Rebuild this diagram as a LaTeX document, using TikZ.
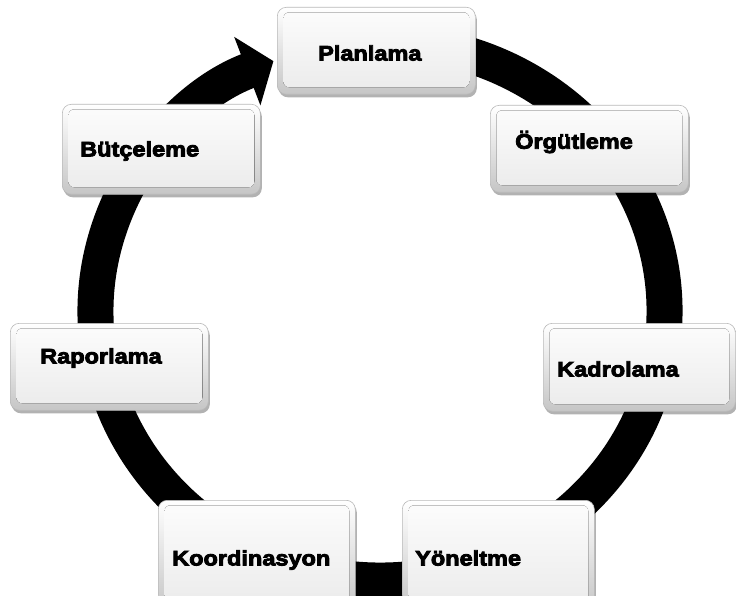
\documentclass[tikz,border=0pt]{standalone}
\usepackage{fontspec}
\usetikzlibrary{arrows.meta,shadows,calc}
\newfontfamily\heavyfont{Liberation Sans Bold}[FakeBold=4,FakeStretch=1.12]

\tikzset{
  panel/.style={
    draw=gray!55, line width=0.6pt, rounded corners=9pt,
    anchor=north west, inner sep=0pt,
    minimum width=198pt, minimum height=87pt,
    top color=white, bottom color=gray!45,
    drop shadow={shadow xshift=1.5pt, shadow yshift=-3pt, opacity=0.3, fill=black},
    path picture={
      \fill[top color=gray!2, bottom color=gray!16, rounded corners=6pt]
        ([xshift=6pt,yshift=-5pt]path picture bounding box.north west)
        rectangle ([xshift=-6pt,yshift=7pt]path picture bounding box.south east);
    }
  },
  boxtext/.style={anchor=west, inner sep=0pt, text=black,
    font=\heavyfont\fontsize{21}{21}\selectfont},
  ring/.style={line width=36pt, black, -{Triangle[length=28pt,width=72pt]}}
}

\begin{document}
\begin{tikzpicture}[x=1pt,y=-1pt]
  \useasboundingbox (0,0) rectangle (736,596);
  \clip (0,0) rectangle (736,596);
  \fill[white] (0,0) rectangle (736,596);

  % cycle ring, clockwise, ending in an arrow at the top
  \coordinate (ringstart) at ($(380,311)+(-80:284.5 and 269.5)$);
  \draw[ring] (ringstart) arc[start angle=-80, end angle=248, x radius=284.5, y radius=269.5];

  % panels
  \node[panel] (plan) at (277,7) {};
  \node[panel] (org)  at (490,105) {};
  \node[panel, minimum width=192pt, minimum height=88pt] (kad) at (543,323) {};
  \node[panel, minimum width=192pt, minimum height=110pt] (yon) at (402,500) {};
  \node[panel, minimum width=197pt, minimum height=110pt] (koor) at (158,500) {};
  \node[panel] (rap)  at (10,323) {};
  \node[panel, minimum height=90pt] (but)  at (62,104) {};

  % captions
  \node[boxtext] (tplan) at (318,53)  {Planlama};
  \node[boxtext] (torg)  at (515,142) {Örgütleme};
  \node[boxtext] (tkad)  at (557,369) {Kadrolama};
  \node[boxtext] (tyon)  at (415,558) {Yöneltme};
  \node[boxtext] (tkoor) at (172,560) {Koordinasyon};
  \node[boxtext] (trap)  at (40,358)  {Raporlama};
  \node[boxtext] (tbut)  at (80,151)  {Bütçeleme};
\end{tikzpicture}
\end{document}
